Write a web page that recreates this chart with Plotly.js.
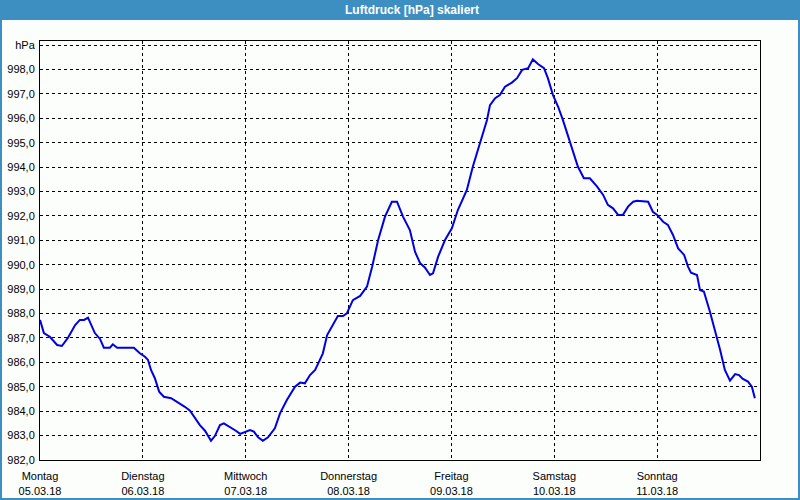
<!DOCTYPE html>
<html>
<head>
<meta charset="utf-8">
<script src="https://cdn.plot.ly/plotly-3.0.1.min.js"></script>
<style>
  html, body { margin: 0; padding: 0; background: #fbfefb; }
  #chart { width: 800px; height: 500px; }
</style>
</head>
<body>
<div id="chart"></div>
<script>
// Hours since Monday 05.03.18 00:00
const hours = [0, 0.9, 2.3, 4.0, 5.1, 6.5, 8.2, 9.3, 10.3, 11.2, 12.8, 14.0, 14.9, 16.3, 17.0, 18.0, 21.9, 23.3, 24.5, 25.2, 25.9, 26.8, 27.8, 28.9, 30.6, 32.7, 33.8, 35.0, 36.2, 37.3, 38.5, 39.9, 40.8, 42.0, 42.9, 44.3, 45.7, 46.7, 47.8, 49.0, 49.9, 50.9, 52.0, 53.2, 54.8, 56.0, 57.6, 59.5, 60.7, 61.8, 63.0, 64.2, 65.3, 66.0, 67.0, 68.1, 69.5, 70.7, 71.6, 73.0, 74.7, 76.3, 77.5, 78.9, 80.5, 82.1, 83.3, 84.7, 86.3, 87.5, 88.7, 89.8, 91.0, 91.7, 92.9, 94.5, 96.1, 97.5, 99.6, 101.0, 102.7, 104.3, 105.0, 106.2, 107.3, 108.5, 110.1, 111.3, 112.5, 113.9, 115.0, 116.2, 117.6, 118.5, 119.7, 120.9, 122.0, 123.2, 124.4, 125.5, 126.9, 128.3, 130.0, 131.4, 132.5, 133.7, 134.9, 136.0, 137.2, 138.4, 139.3, 141.9, 143.0, 144.0, 145.4, 146.5, 147.7, 148.9, 150.3, 151.2, 151.9, 153.3, 154.0, 154.9, 156.3, 157.5, 158.7, 159.8, 161.0, 162.2, 163.1, 164.0, 165.2, 166.1, 166.8];
const pressure = [987.74, 987.2, 987.05, 986.71, 986.67, 987.0, 987.53, 987.74, 987.74, 987.83, 987.2, 986.96, 986.6, 986.6, 986.74, 986.6, 986.6, 986.37, 986.23, 986.1, 985.69, 985.35, 984.8, 984.59, 984.53, 984.32, 984.18, 984.02, 983.71, 983.43, 983.2, 982.79, 982.98, 983.43, 983.5, 983.36, 983.2, 983.07, 983.16, 983.23, 983.16, 982.93, 982.79, 982.93, 983.3, 983.91, 984.46, 985.0, 985.17, 985.14, 985.48, 985.69, 986.1, 986.37, 987.12, 987.46, 987.9, 987.9, 988.01, 988.55, 988.72, 989.1, 989.92, 991.01, 991.97, 992.58, 992.58, 991.97, 991.42, 990.53, 990.06, 989.89, 989.58, 989.65, 990.33, 991.01, 991.49, 992.24, 993.06, 994.02, 995.04, 995.93, 996.54, 996.82, 996.95, 997.29, 997.46, 997.64, 997.98, 998.05, 998.41, 998.22, 998.05, 997.64, 996.95, 996.47, 995.93, 995.24, 994.56, 994.02, 993.54, 993.54, 993.2, 992.86, 992.45, 992.31, 992.04, 992.04, 992.38, 992.58, 992.62, 992.58, 992.17, 992.04, 991.76, 991.63, 991.22, 990.67, 990.4, 989.92, 989.67, 989.58, 988.96, 988.9, 988.08, 987.33, 986.51, 985.69, 985.25, 985.52, 985.48, 985.32, 985.21, 985.0, 984.53];

const dayTickVals = [0, 24, 48, 72, 96, 120, 144];
const dayNames = ["Montag", "Dienstag", "Mittwoch", "Donnerstag", "Freitag", "Samstag", "Sonntag"];
const dayDates = ["05.03.18", "06.03.18", "07.03.18", "08.03.18", "09.03.18", "10.03.18", "11.03.18"];
const yTickVals = [982, 983, 984, 985, 986, 987, 988, 989, 990, 991, 992, 993, 994, 995, 996, 997, 998, 999];
const yTickText = ["982,0", "983,0", "984,0", "985,0", "986,0", "987,0", "988,0", "989,0", "990,0", "991,0", "992,0", "993,0", "994,0", "995,0", "996,0", "997,0", "998,0", "hPa"];
const chartTitle = "Luftdruck [hPa] skaliert";

const xTickText = dayNames.map((d, i) => d + "<br>" + dayDates[i]);

const bg = "#fbfefb";
const barColor = "#3d8fc2";
const font = "Liberation Sans, Arial, sans-serif";

// plot area: x 40..760, y 41..460
const L = 40, R = 40, T = 41, B = 40, W = 800, H = 500;
const pw = W - L - R, ph = H - T - B;
const px = p => (p - L) / pw;
const py = p => (H - B - p) / ph;

const trace = {
  x: hours, y: pressure, type: "scatter", mode: "lines",
  line: { color: "#0000e0", width: 2 },
  hoverinfo: "skip"
};

const layout = {
  width: W, height: H,
  margin: { l: L, r: R, t: T, b: B, pad: 0 },
  paper_bgcolor: bg, plot_bgcolor: bg,
  showlegend: false,
  font: { family: font, size: 11, color: "#000" },
  title: {
    text: chartTitle,
    font: { family: font, size: 12, color: "#ffffff", weight: "bold" },
    xref: "container", yref: "container",
    x: 412 / W, y: 1 - 10 / H, xanchor: "center", yanchor: "middle"
  },
  xaxis: {
    range: [0, 168], tickmode: "array", tickvals: dayTickVals, ticktext: xTickText,
    showgrid: true, gridcolor: "#000", gridwidth: 1, griddash: "3px,3px",
    zeroline: false, showline: true, linecolor: "#000", linewidth: 1, mirror: true,
    ticks: "outside", ticklen: 6, tickcolor: "rgba(0,0,0,0)",
    tickfont: { family: font, size: 11, color: "#000" }, fixedrange: true
  },
  yaxis: {
    range: [982, 999 + 4 / 24.41], tickmode: "array", tickvals: yTickVals, ticktext: yTickText,
    showgrid: true, gridcolor: "#000", gridwidth: 1, griddash: "3px,3px",
    zeroline: false, showline: true, linecolor: "#000", linewidth: 1, mirror: true,
    ticks: "outside", ticklen: 2, tickcolor: "rgba(0,0,0,0)",
    tickfont: { family: font, size: 11, color: "#000" }, fixedrange: true
  },
  shapes: [
    { type: "rect", xref: "paper", yref: "paper", x0: px(0), x1: px(800), y0: py(20), y1: py(0),
      fillcolor: barColor, line: { width: 0 }, layer: "above" },
    { type: "rect", xref: "paper", yref: "paper", x0: px(1), x1: px(799), y0: py(499), y1: py(1),
      fillcolor: "rgba(0,0,0,0)", line: { color: barColor, width: 2 }, layer: "above" }
  ]
};

Plotly.newPlot("chart", [trace], layout, { staticPlot: true, displayModeBar: false });
</script>
</body>
</html>
